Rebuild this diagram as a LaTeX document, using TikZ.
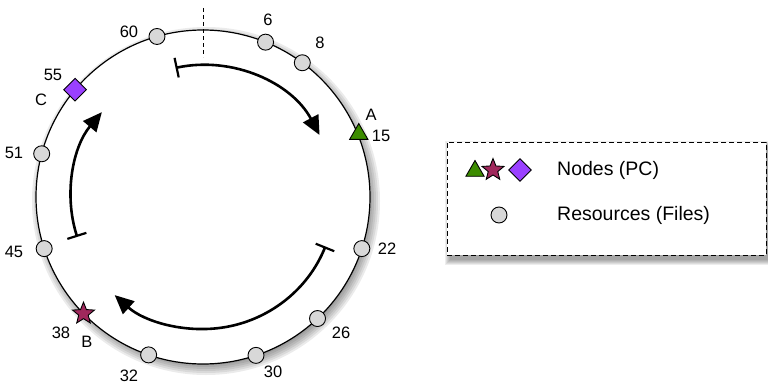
\documentclass[tikz,border=0pt]{standalone}
\usepackage{fontspec}
\setmainfont{Liberation Sans}
\usetikzlibrary{arrows.meta,shapes.geometric}
\definecolor{resgray}{HTML}{D8D8D8}
\definecolor{pcgreen}{HTML}{3C8C00}
\definecolor{pcwine}{HTML}{A0285C}
\definecolor{pcpurple}{HTML}{9A40FF}

\begin{document}
\begin{tikzpicture}[x=1pt,y=1pt,
  res/.style={circle, draw=black, fill=resgray, line width=0.9pt, minimum size=16pt, inner sep=0pt},
  pctri/.style={regular polygon, regular polygon sides=3, draw=black, fill=pcgreen, minimum size=21pt, inner sep=0pt, line width=0.9pt},
  pcstar/.style={star, star points=5, star point ratio=2.3, draw=black, fill=pcwine, minimum size=23pt, inner sep=0pt, line width=0.9pt},
  pcdia/.style={diamond, draw=black, fill=pcpurple, minimum size=23pt, inner sep=0pt, line width=0.9pt},
  lbl/.style={font=\fontsize{16.5}{19}\selectfont, inner sep=0pt},
  legtext/.style={font=\fontsize{19.5}{22}\selectfont, inner sep=0pt, anchor=west},
  route/.style={line width=2.6pt, {Bar[width=20pt,line width=2.2pt]}-{Triangle[length=19pt,width=17pt]}},
]
\useasboundingbox (0,0) rectangle (768,384);

% soft shadow under the ring
\foreach \r in {160,162,...,174}
  \fill[black, opacity=0.08] (206,183) circle (\r);

% the identifier ring
\node[circle, draw=black, fill=white, line width=1.2pt, minimum size=334pt, inner sep=0pt] (ring) at (203,187) {};

% zero mark at the top
\draw[dashed, dash pattern=on 4pt off 3pt, line width=0.9pt] (203,376) coordinate (zt) -- (203,327) coordinate (zb);

\begin{scope}[shift={(203,187)}]
  % resources on the ring
  \node[res] (r60) at (106:167) {};
  \node[res] (r6)  at (68:167) {};
  \node[res] (r8)  at (53.5:167) {};
  \node[res] (r22) at (-18:167) {};
  \node[res] (r26) at (-46.7:167) {};
  \node[res] (r30) at (-71.5:167) {};
  \node[res] (r32) at (-109:167) {};
  \node[res] (r45) at (-162:167) {};
  \node[res] (r51) at (165:167) {};
  % peers on the ring
  \node[pctri]  (pA) at (22:168) {};
  \node[pcstar] (pB) at (-135.7:167) {};
  \node[pcdia]  (pC) at (140:167) {};
  % responsibility arcs
  \draw[route] (102:132) arc[start angle=102, end angle=28, radius=132];
  \draw[route] (-22:132) arc[start angle=-22, end angle=-132, radius=132];
  \draw[route] (197.6:132) arc[start angle=197.6, end angle=140, radius=132];
\end{scope}

% identifiers
\node[lbl] (l60) at (129,352) {60};
\node[lbl] (l6)  at (268,364) {6};
\node[lbl] (l8)  at (320,341) {8};
\node[lbl] (lA)  at (371,269) {A};
\node[lbl] (l15) at (381,248) {15};
\node[lbl] (l22) at (387,135) {22};
\node[lbl] (l26) at (341,51) {26};
\node[lbl] (l30) at (273,12) {30};
\node[lbl] (l32) at (129,8) {32};
\node[lbl] (l38) at (61,51) {38};
\node[lbl] (lB)  at (87,42) {B};
\node[lbl] (l45) at (14,132) {45};
\node[lbl] (l51) at (14,231) {51};
\node[lbl] (l55) at (53,309) {55};
\node[lbl] (lC)  at (41,284) {C};

% legend shadow
\foreach \d in {0,1,...,5}
  \fill[black, opacity=0.07] (450-\d,238+\d) rectangle (771+\d,124-\d);

% legend
\node[draw=black, dashed, dash pattern=on 5pt off 3pt, fill=white, line width=0.9pt,
      minimum width=319pt, minimum height=113pt, inner sep=0pt, anchor=north west] (legend) at (447,242) {};
\node[pctri]  (kA) at (475,213) {};
\node[pcstar] (kB) at (493,214) {};
\node[pcdia]  (kC) at (520,214) {};
\node[res]    (kR) at (499,169) {};
\node[legtext] (tN) at (557,214) {Nodes (PC)};
\node[legtext] (tR) at (557,169) {Resources (Files)};
\end{tikzpicture}
\end{document}
